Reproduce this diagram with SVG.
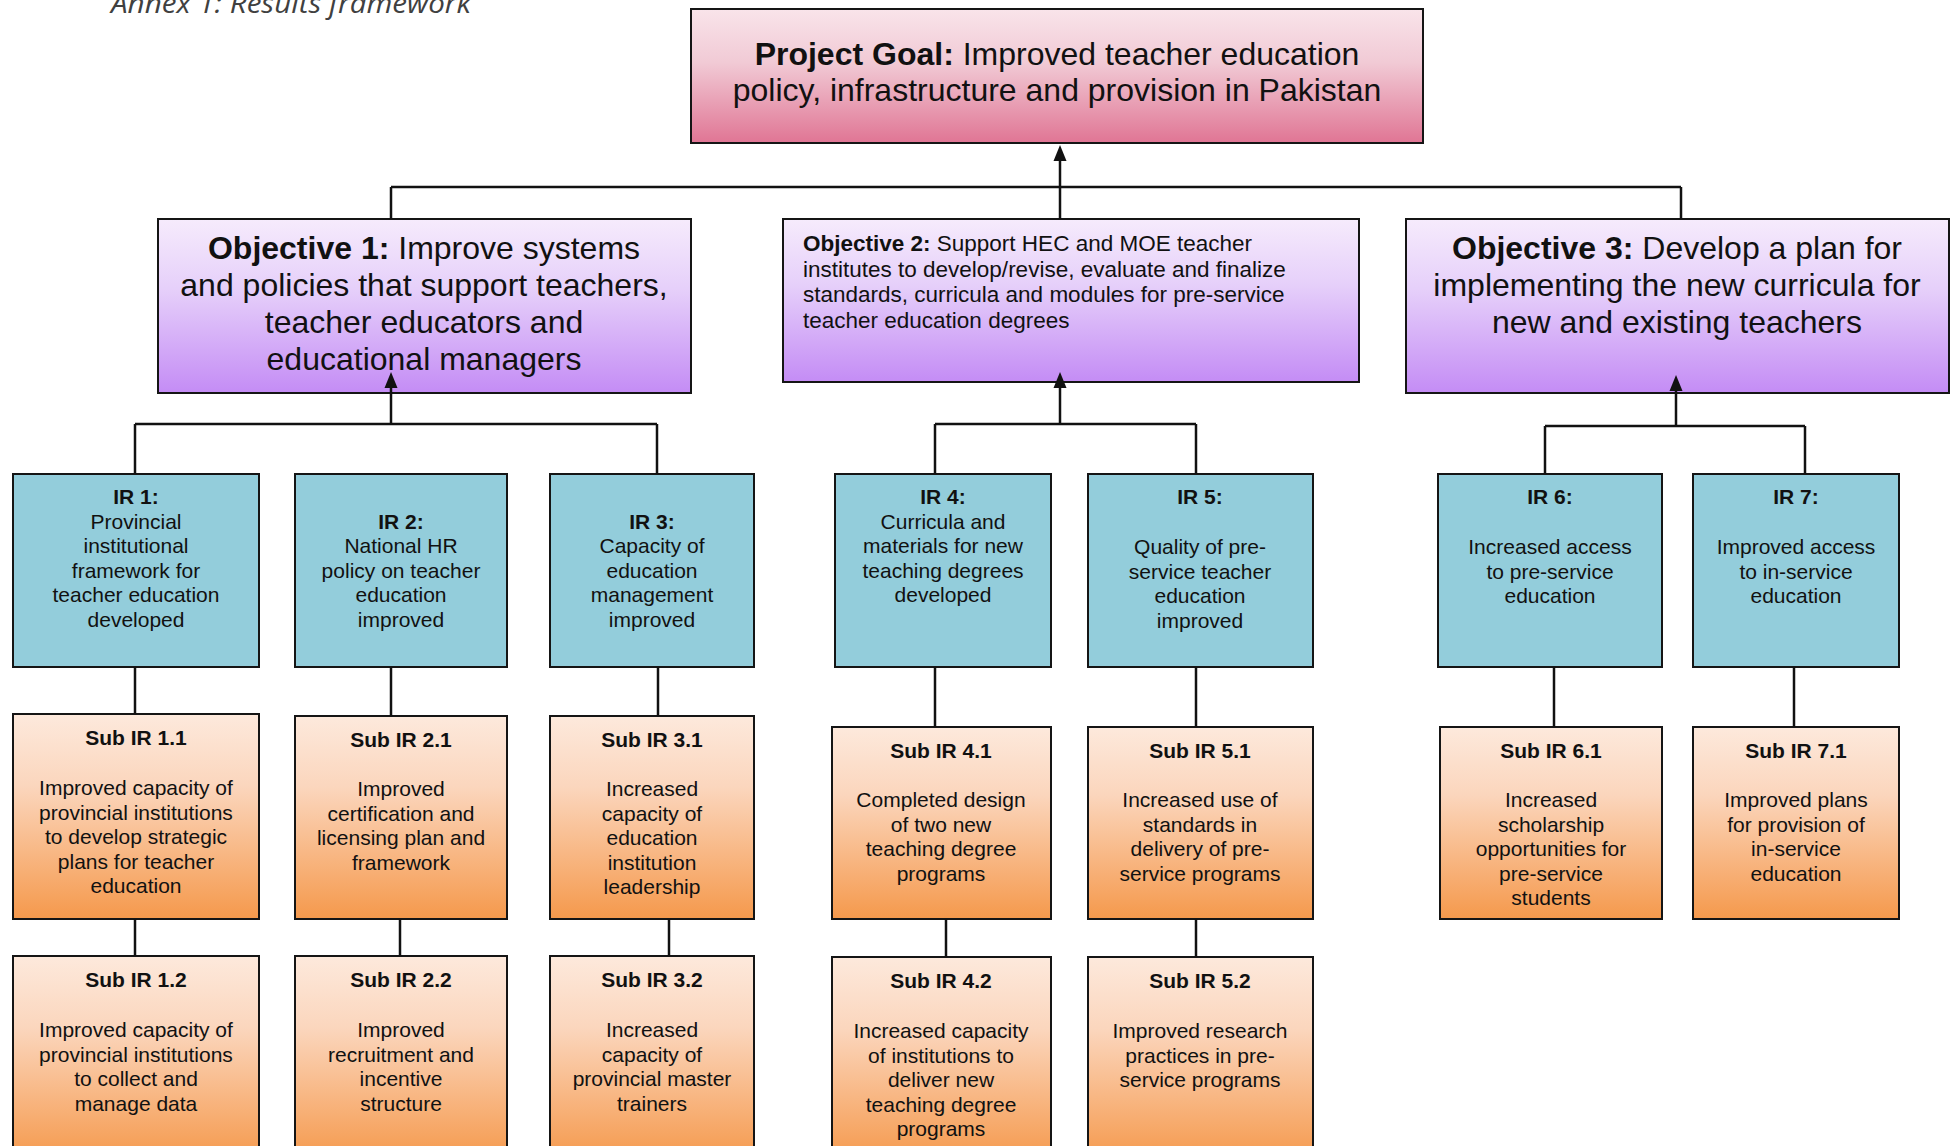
<svg xmlns="http://www.w3.org/2000/svg" width="1955" height="1146" viewBox="0 0 1955 1146">
<defs>
<linearGradient id="gGoal" x1="0" y1="0" x2="0" y2="1"><stop offset="0" stop-color="#f9e4ea"/><stop offset="0.4" stop-color="#f1cad5"/><stop offset="1" stop-color="#e07594"/></linearGradient>
<linearGradient id="gObj" x1="0" y1="0" x2="0" y2="1"><stop offset="0" stop-color="#f6ebfc"/><stop offset="0.4" stop-color="#e6d0fa"/><stop offset="1" stop-color="#c48cf5"/></linearGradient>
<linearGradient id="gSub" x1="0" y1="0" x2="0" y2="1"><stop offset="0" stop-color="#fde9dc"/><stop offset="0.35" stop-color="#fbd6bd"/><stop offset="1" stop-color="#f5994c"/></linearGradient>
<style>
.box{stroke:#151515;stroke-width:2}
.goal{fill:url(#gGoal)}
.obj{fill:url(#gObj)}
.ir{fill:#93cddb}
.sub{fill:url(#gSub)}
text{font-family:"Liberation Sans",Arial,sans-serif;fill:#111}
.big{font-size:32px;text-anchor:middle}
.mid{font-size:22.5px}
.sm{font-size:21px;text-anchor:middle}
.b{font-weight:bold}
.conn line{stroke:#111;stroke-width:2.5}
.conn path{fill:#111}
.annex{font-family:"Open Sans","Noto Sans",sans-serif;font-style:italic;font-size:27px;fill:#404040}
</style>
</defs>
<text class="annex" x="111" y="13" textLength="360" lengthAdjust="spacingAndGlyphs">Annex 1: Results framework</text>

<g id="goal"><rect class="box goal" x="691" y="9" width="732" height="134"/>
<text class="big" x="1057" y="65"><tspan class="b">Project Goal:</tspan> Improved teacher education</text>
<text class="big" x="1057" y="101">policy, infrastructure and provision in Pakistan</text></g>

<g id="obj1"><rect class="box obj" x="158" y="219" width="533" height="174"/>
<text class="big" x="424" y="259"><tspan class="b">Objective 1:</tspan> Improve systems</text>
<text class="big" x="424" y="296">and policies that support teachers,</text>
<text class="big" x="424" y="333">teacher educators and</text>
<text class="big" x="424" y="370">educational managers</text></g>

<g id="obj2"><rect class="box obj" x="783" y="219" width="576" height="163"/>
<text class="mid" x="803" y="251"><tspan class="b">Objective 2:</tspan> Support HEC and MOE teacher</text>
<text class="mid" x="803" y="276.5">institutes to develop/revise, evaluate and finalize</text>
<text class="mid" x="803" y="302">standards, curricula and modules for pre-service</text>
<text class="mid" x="803" y="327.5">teacher education degrees</text></g>

<g id="obj3"><rect class="box obj" x="1406" y="219" width="543" height="174"/>
<text class="big" x="1677" y="259"><tspan class="b">Objective 3:</tspan> Develop a plan for</text>
<text class="big" x="1677" y="296">implementing the new curricula for</text>
<text class="big" x="1677" y="333">new and existing teachers</text></g>

<g id="ir1"><rect class="box ir" x="13" y="474" width="246" height="193"/>
<text class="sm b" x="136" y="504">IR 1:</text>
<text class="sm" x="136" y="528.5">Provincial</text>
<text class="sm" x="136" y="553">institutional</text>
<text class="sm" x="136" y="577.5">framework for</text>
<text class="sm" x="136" y="602">teacher education</text>
<text class="sm" x="136" y="626.5">developed</text></g>

<g id="ir2"><rect class="box ir" x="295" y="474" width="212" height="193"/>
<text class="sm b" x="401" y="528.5">IR 2:</text>
<text class="sm" x="401" y="553">National HR</text>
<text class="sm" x="401" y="577.5">policy on teacher</text>
<text class="sm" x="401" y="602">education</text>
<text class="sm" x="401" y="626.5">improved</text></g>

<g id="ir3"><rect class="box ir" x="550" y="474" width="204" height="193"/>
<text class="sm b" x="652" y="528.5">IR 3:</text>
<text class="sm" x="652" y="553">Capacity of</text>
<text class="sm" x="652" y="577.5">education</text>
<text class="sm" x="652" y="602">management</text>
<text class="sm" x="652" y="626.5">improved</text></g>

<g id="ir4"><rect class="box ir" x="835" y="474" width="216" height="193"/>
<text class="sm b" x="943" y="504">IR 4:</text>
<text class="sm" x="943" y="528.5">Curricula and</text>
<text class="sm" x="943" y="553">materials for new</text>
<text class="sm" x="943" y="577.5">teaching degrees</text>
<text class="sm" x="943" y="602">developed</text></g>

<g id="ir5"><rect class="box ir" x="1088" y="474" width="225" height="193"/>
<text class="sm b" x="1200" y="504">IR 5:</text>
<text class="sm" x="1200" y="554">Quality of pre-</text>
<text class="sm" x="1200" y="578.5">service teacher</text>
<text class="sm" x="1200" y="603">education</text>
<text class="sm" x="1200" y="627.5">improved</text></g>

<g id="ir6"><rect class="box ir" x="1438" y="474" width="224" height="193"/>
<text class="sm b" x="1550" y="504">IR 6:</text>
<text class="sm" x="1550" y="554">Increased access</text>
<text class="sm" x="1550" y="578.5">to pre-service</text>
<text class="sm" x="1550" y="603">education</text></g>

<g id="ir7"><rect class="box ir" x="1693" y="474" width="206" height="193"/>
<text class="sm b" x="1796" y="504">IR 7:</text>
<text class="sm" x="1796" y="554">Improved access</text>
<text class="sm" x="1796" y="578.5">to in-service</text>
<text class="sm" x="1796" y="603">education</text></g>

<g id="sub11"><rect class="box sub" x="13" y="714" width="246" height="205"/>
<text class="sm b" x="136" y="745">Sub IR 1.1</text>
<text class="sm" x="136" y="795">Improved capacity of</text>
<text class="sm" x="136" y="819.5">provincial institutions</text>
<text class="sm" x="136" y="844">to develop strategic</text>
<text class="sm" x="136" y="868.5">plans for teacher</text>
<text class="sm" x="136" y="893">education</text></g>

<g id="sub21"><rect class="box sub" x="295" y="716" width="212" height="203"/>
<text class="sm b" x="401" y="747">Sub IR 2.1</text>
<text class="sm" x="401" y="796">Improved</text>
<text class="sm" x="401" y="820.5">certification and</text>
<text class="sm" x="401" y="845">licensing plan and</text>
<text class="sm" x="401" y="869.5">framework</text></g>

<g id="sub31"><rect class="box sub" x="550" y="716" width="204" height="203"/>
<text class="sm b" x="652" y="747">Sub IR 3.1</text>
<text class="sm" x="652" y="796">Increased</text>
<text class="sm" x="652" y="820.5">capacity of</text>
<text class="sm" x="652" y="845">education</text>
<text class="sm" x="652" y="869.5">institution</text>
<text class="sm" x="652" y="894">leadership</text></g>

<g id="sub41"><rect class="box sub" x="832" y="727" width="219" height="192"/>
<text class="sm b" x="941" y="758">Sub IR 4.1</text>
<text class="sm" x="941" y="807">Completed design</text>
<text class="sm" x="941" y="831.5">of two new</text>
<text class="sm" x="941" y="856">teaching degree</text>
<text class="sm" x="941" y="880.5">programs</text></g>

<g id="sub51"><rect class="box sub" x="1088" y="727" width="225" height="192"/>
<text class="sm b" x="1200" y="758">Sub IR 5.1</text>
<text class="sm" x="1200" y="807">Increased use of</text>
<text class="sm" x="1200" y="831.5">standards in</text>
<text class="sm" x="1200" y="856">delivery of pre-</text>
<text class="sm" x="1200" y="880.5">service programs</text></g>

<g id="sub61"><rect class="box sub" x="1440" y="727" width="222" height="192"/>
<text class="sm b" x="1551" y="758">Sub IR 6.1</text>
<text class="sm" x="1551" y="807">Increased</text>
<text class="sm" x="1551" y="831.5">scholarship</text>
<text class="sm" x="1551" y="856">opportunities for</text>
<text class="sm" x="1551" y="880.5">pre-service</text>
<text class="sm" x="1551" y="905">students</text></g>

<g id="sub71"><rect class="box sub" x="1693" y="727" width="206" height="192"/>
<text class="sm b" x="1796" y="758">Sub IR 7.1</text>
<text class="sm" x="1796" y="807">Improved plans</text>
<text class="sm" x="1796" y="831.5">for provision of</text>
<text class="sm" x="1796" y="856">in-service</text>
<text class="sm" x="1796" y="880.5">education</text></g>

<g id="sub12"><rect class="box sub" x="13" y="956" width="246" height="205"/>
<text class="sm b" x="136" y="987">Sub IR 1.2</text>
<text class="sm" x="136" y="1037">Improved capacity of</text>
<text class="sm" x="136" y="1061.5">provincial institutions</text>
<text class="sm" x="136" y="1086">to collect and</text>
<text class="sm" x="136" y="1110.5">manage data</text></g>

<g id="sub22"><rect class="box sub" x="295" y="956" width="212" height="205"/>
<text class="sm b" x="401" y="987">Sub IR 2.2</text>
<text class="sm" x="401" y="1037">Improved</text>
<text class="sm" x="401" y="1061.5">recruitment and</text>
<text class="sm" x="401" y="1086">incentive</text>
<text class="sm" x="401" y="1110.5">structure</text></g>

<g id="sub32"><rect class="box sub" x="550" y="956" width="204" height="205"/>
<text class="sm b" x="652" y="987">Sub IR 3.2</text>
<text class="sm" x="652" y="1037">Increased</text>
<text class="sm" x="652" y="1061.5">capacity of</text>
<text class="sm" x="652" y="1086">provincial master</text>
<text class="sm" x="652" y="1110.5">trainers</text></g>

<g id="sub42"><rect class="box sub" x="832" y="957" width="219" height="205"/>
<text class="sm b" x="941" y="988">Sub IR 4.2</text>
<text class="sm" x="941" y="1038">Increased capacity</text>
<text class="sm" x="941" y="1062.5">of institutions to</text>
<text class="sm" x="941" y="1087">deliver new</text>
<text class="sm" x="941" y="1111.5">teaching degree</text>
<text class="sm" x="941" y="1136">programs</text></g>

<g id="sub52"><rect class="box sub" x="1088" y="957" width="225" height="205"/>
<text class="sm b" x="1200" y="988">Sub IR 5.2</text>
<text class="sm" x="1200" y="1038">Improved research</text>
<text class="sm" x="1200" y="1062.5">practices in pre-</text>
<text class="sm" x="1200" y="1087">service programs</text></g>

<g id="connectors" class="conn">
<line x1="1060" y1="155" x2="1060" y2="219"/>
<path d="M1060 145 L1053.5 161 L1066.5 161 Z"/>
<line x1="391" y1="187" x2="1681" y2="187"/>
<line x1="391" y1="187" x2="391" y2="219"/>
<line x1="1681" y1="187" x2="1681" y2="219"/>

<line x1="135" y1="424" x2="657" y2="424"/>
<line x1="391" y1="383" x2="391" y2="424"/>
<path d="M391 372 L384.5 388 L397.5 388 Z"/>
<line x1="135" y1="424" x2="135" y2="474"/>
<line x1="657" y1="424" x2="657" y2="474"/>

<line x1="935" y1="424" x2="1196" y2="424"/>
<line x1="1060" y1="383" x2="1060" y2="424"/>
<path d="M1060 372 L1053.5 388 L1066.5 388 Z"/>
<line x1="935" y1="424" x2="935" y2="474"/>
<line x1="1196" y1="424" x2="1196" y2="474"/>

<line x1="1545" y1="426" x2="1805" y2="426"/>
<line x1="1676" y1="386" x2="1676" y2="426"/>
<path d="M1676 375 L1669.5 391 L1682.5 391 Z"/>
<line x1="1545" y1="426" x2="1545" y2="474"/>
<line x1="1805" y1="426" x2="1805" y2="474"/>

<line x1="135" y1="667" x2="135" y2="714"/>
<line x1="391" y1="667" x2="391" y2="716"/>
<line x1="658" y1="667" x2="658" y2="716"/>
<line x1="935" y1="667" x2="935" y2="727"/>
<line x1="1196" y1="667" x2="1196" y2="727"/>
<line x1="1554" y1="667" x2="1554" y2="727"/>
<line x1="1794" y1="667" x2="1794" y2="727"/>

<line x1="135" y1="919" x2="135" y2="956"/>
<line x1="400" y1="919" x2="400" y2="956"/>
<line x1="669" y1="919" x2="669" y2="956"/>
<line x1="946" y1="919" x2="946" y2="957"/>
<line x1="1196" y1="919" x2="1196" y2="957"/>
</g>
</svg>
